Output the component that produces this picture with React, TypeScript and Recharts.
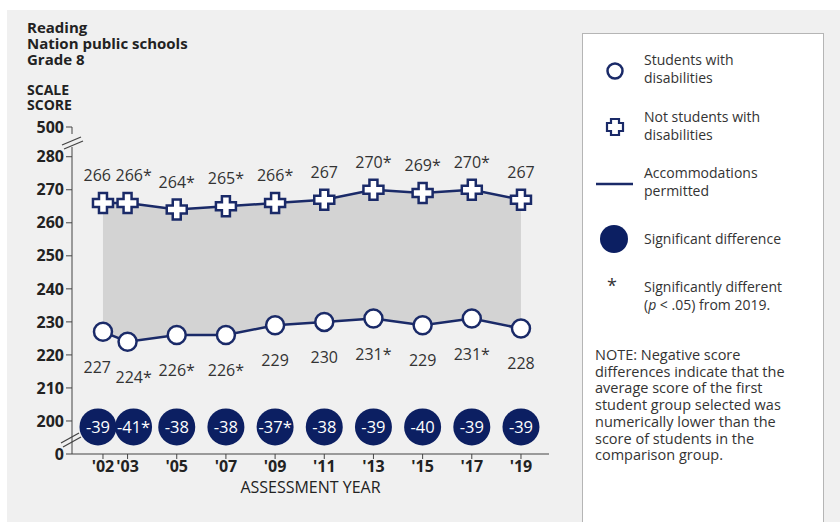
import React from 'react';
import { ComposedChart, Line, Area, XAxis, YAxis, LabelList } from 'recharts';

const years = [2002, 2003, 2005, 2007, 2009, 2011, 2013, 2015, 2017, 2019];
const yearLabels = ["'02", "'03", "'05", "'07", "'09", "'11", "'13", "'15", "'17", "'19"];
const swdScores = [227, 224, 226, 226, 229, 230, 231, 229, 231, 228];
const swdLabels = ['227', '224*', '226*', '226*', '229', '230', '231*', '229', '231*', '228'];
const nonSwdScores = [266, 266, 264, 265, 266, 267, 270, 269, 270, 267];
const nonSwdLabels = ['266', '266*', '264*', '265*', '266*', '267', '270*', '269*', '270*', '267'];
const gapLabels = ['-39', '-41*', '-38', '-38', '-37*', '-38', '-39', '-40', '-39', '-39'];

// broken axis: 190 stands in for 0 and 289 for 500
const yTicks = [190, 200, 210, 220, 230, 240, 250, 260, 270, 280, 289];
const yTickLabels = ['0', '200', '210', '220', '230', '240', '250', '260', '270', '280', '500'];
const GAP_ROW = 198.2;

const NAVY = '#1a2a68';
const BADGE = '#0c1f62';
const FONT = '"Open Sans", sans-serif';

const data = years.map((year, i) => ({
  year,
  swd: swdScores[i],
  nonSwd: nonSwdScores[i],
  swdLabel: swdLabels[i],
  nonSwdLabel: nonSwdLabels[i],
  gap: gapLabels[i],
}));

// '02 and '03 sit close together, so their labels and badges are pushed apart
const nudge = (i: number) => (i === 0 ? -5 : i === 1 ? 6 : 0);

const CrossDot = (props: any) => {
  const { cx, cy } = props;
  if (cx == null || cy == null) return null;
  const a = 10;
  const b = 4;
  const d = `M${cx - b},${cy - a} H${cx + b} V${cy - b} H${cx + a} V${cy + b} H${cx + b} V${cy + a} H${cx - b} V${cy + b} H${cx - a} V${cy - b} H${cx - b} Z`;
  return <path d={d} fill="#fff" stroke={NAVY} strokeWidth={2.5} strokeLinejoin="miter" />;
};

const CircleDot = (props: any) => {
  const { cx, cy } = props;
  if (cx == null || cy == null) return null;
  return <circle cx={cx} cy={cy} r={9} fill="#fff" stroke={NAVY} strokeWidth={2.5} />;
};

const BadgeDot = (props: any) => {
  const { cx, cy, index } = props;
  if (cx == null || cy == null) return null;
  return <circle cx={cx + nudge(index)} cy={cy} r={18.5} fill={BADGE} />;
};

const BadgeText = (props: any) => {
  const { x, y, value, index } = props;
  return (
    <text x={x + nudge(index)} y={y + 6} textAnchor="middle" fill="#fff" fontSize={16.5} fontFamily={FONT}>
      {value}
    </text>
  );
};

const makeLabel = (dy: number) => (props: any) => {
  const { x, y, value, index } = props;
  let anchor = 'middle';
  let dx = 0;
  if (index === 0) { anchor = 'end'; dx = 8; }
  if (index === 1) { anchor = 'start'; dx = -12; }
  return (
    <text x={x + dx} y={y + dy} textAnchor={anchor} fill="#333" fontSize={16} fontFamily={FONT}>
      {value}
    </text>
  );
};

function Legend() {
  const text: React.CSSProperties = { position: 'absolute', left: 61, fontSize: 14, lineHeight: '18px', color: '#333', fontFamily: FONT, whiteSpace: 'nowrap' };
  const note = ['NOTE: Negative score', 'differences indicate that the', 'average score of the first', 'student group selected was', 'numerically lower than the', 'score of students in the', 'comparison group.'];
  return (
    <div style={{ position: 'absolute', left: 582, top: 33, width: 242, height: 500, background: '#fff', border: '1px solid #b5b5b5', boxSizing: 'border-box' }}>
      <svg width={60} height={280} style={{ position: 'absolute', left: 0, top: 0 }}>
        <circle cx={32} cy={37} r={7.5} fill="#fff" stroke={NAVY} strokeWidth={2.5} />
        <path d="M28,85 H36 V89 H40 V97 H36 V101 H28 V97 H24 V89 H28 Z" fill="#fff" stroke={NAVY} strokeWidth={2.2} />
        <line x1={13} y1={150} x2={50} y2={150} stroke={NAVY} strokeWidth={2.5} />
        <circle cx={31} cy={205} r={14} fill={BADGE} />
      </svg>
      <div style={{ ...text, top: 17 }}>Students with<br />disabilities</div>
      <div style={{ ...text, top: 74 }}>Not students with<br />disabilities</div>
      <div style={{ ...text, top: 130 }}>Accommodations<br />permitted</div>
      <div style={{ ...text, top: 196 }}>Significant difference</div>
      <div style={{ ...text, left: 24, top: 242, fontSize: 18 }}>*</div>
      <div style={{ ...text, top: 244 }}>Significantly different<br />(<i>p</i> &lt; .05) from 2019.</div>
      {note.map((line, i) => (
        <div key={i} style={{ ...text, left: 12, top: 313 + i * 16.7, fontSize: 14.5, lineHeight: '16.7px' }}>{line}</div>
      ))}
    </div>
  );
}

export default function App() {
  const bold: React.CSSProperties = { position: 'absolute', left: 27, fontFamily: FONT, fontWeight: 700, color: '#222', whiteSpace: 'nowrap' };
  return (
    <div style={{ position: 'absolute', left: 0, top: 0, width: 840, height: 522, background: '#fff', overflow: 'hidden' }}>
      <div style={{ position: 'absolute', left: 7, top: 10, width: 833, height: 512, background: '#f0f0f0' }} />
      <div style={{ ...bold, top: 19, fontSize: 15, lineHeight: '16px' }}>Reading</div>
      <div style={{ ...bold, top: 35, fontSize: 15, lineHeight: '16px' }}>Nation public schools</div>
      <div style={{ ...bold, top: 51, fontSize: 15, lineHeight: '16px' }}>Grade 8</div>
      <div style={{ ...bold, top: 82, fontSize: 14, lineHeight: '15px' }}>SCALE</div>
      <div style={{ ...bold, top: 97, fontSize: 14, lineHeight: '15px' }}>SCORE</div>
      <div style={{ position: 'absolute', left: 0, top: 0 }}>
        <ComposedChart width={580} height={522} data={data} margin={{ top: 127, right: 31, bottom: 0, left: 0 }}>
          <XAxis
            dataKey="year"
            type="number"
            domain={[2000.74, 2020.14]}
            ticks={years}
            tickFormatter={(v: number) => yearLabels[years.indexOf(v)]}
            height={68}
            tickSize={5}
            tickMargin={2}
            stroke="#444"
            tick={{ fill: '#222', fontSize: 16, fontWeight: 700, fontFamily: FONT }}
            label={{ value: 'ASSESSMENT YEAR', position: 'insideBottom', offset: 29, fill: '#222', fontSize: 16, fontFamily: FONT }}
            interval={0}
          />
          <YAxis
            type="number"
            domain={[190, 289]}
            ticks={yTicks}
            tickFormatter={(v: number) => yTickLabels[yTicks.indexOf(v)]}
            width={72}
            tickSize={6}
            tickMargin={2}
            stroke="#444"
            tick={{ fill: '#222', fontSize: 16, fontWeight: 700, fontFamily: FONT }}
            interval={0}
            allowDataOverflow
          />
          <Area
            dataKey={(d: any) => [d.swd, d.nonSwd]}
            type="linear"
            fill="#d3d3d3"
            fillOpacity={1}
            stroke="none"
            isAnimationActive={false}
          />
          <Line dataKey="nonSwd" type="linear" stroke={NAVY} strokeWidth={2.5} dot={<CrossDot />} activeDot={false} isAnimationActive={false}>
            <LabelList dataKey="nonSwdLabel" content={makeLabel(-22)} />
          </Line>
          <Line dataKey="swd" type="linear" stroke={NAVY} strokeWidth={2.5} dot={<CircleDot />} activeDot={false} isAnimationActive={false}>
            <LabelList dataKey="swdLabel" content={makeLabel(41)} />
          </Line>
          <Line dataKey={() => GAP_ROW} type="linear" stroke="none" dot={<BadgeDot />} activeDot={false} isAnimationActive={false}>
            <LabelList dataKey="gap" content={BadgeText} />
          </Line>
        </ComposedChart>
      </div>
      {/* axis break marks */}
      <svg width={120} height={522} style={{ position: 'absolute', left: 0, top: 0, pointerEvents: 'none' }}>
        <line x1={72} y1={134} x2={72} y2={147} stroke="#f0f0f0" strokeWidth={4} />
        <line x1={62} y1={145} x2={81} y2={137} stroke="#444" strokeWidth={1.3} />
        <line x1={64} y1={149} x2={83} y2={141} stroke="#444" strokeWidth={1.3} />
        <line x1={61} y1={443} x2={79} y2={433} stroke="#444" strokeWidth={1.3} />
        <line x1={63} y1={447} x2={81} y2={437} stroke="#444" strokeWidth={1.3} />
      </svg>
      <Legend />
    </div>
  );
}
